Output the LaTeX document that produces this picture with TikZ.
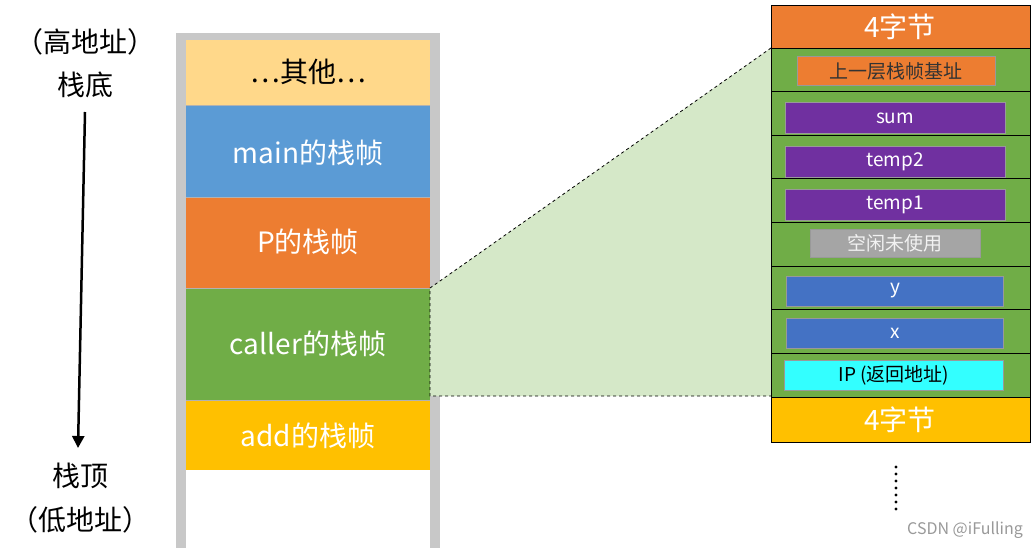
\documentclass[tikz,border=0pt]{standalone}
\usepackage{fontspec}
\setmainfont{Noto Sans CJK SC}
\usetikzlibrary{arrows.meta}
\definecolor{cother}{HTML}{FFD88A}
\definecolor{cmain}{HTML}{5B9BD5}
\definecolor{cp}{HTML}{ED7D31}
\definecolor{ccaller}{HTML}{70AD47}
\definecolor{cadd}{HTML}{FFC000}
\definecolor{cpur}{HTML}{7030A0}
\definecolor{cblue}{HTML}{4472C4}
\definecolor{ccyan}{HTML}{33FFFF}
\definecolor{cgray}{HTML}{A5A5A5}
\definecolor{cwall}{HTML}{C8C8C8}
\definecolor{ctrap}{HTML}{D5E8C8}
\begin{document}
\begin{tikzpicture}[x=1pt,y=-1pt,
  blk/.style={font=\fontsize{28}{30}\selectfont,text=white},
  inner/.style={draw=black!40,line width=0.8pt,font=\fontsize{19}{21}\selectfont,text=white},
  row/.style={draw=black,line width=0.8pt,fill=ccaller}]
\useasboundingbox (0,0) rectangle (1035,548);
\fill[white] (0,0) rectangle (1035,548);
% left container
\fill[cwall] (176,33) rectangle (440,548);
\fill[white] (186,40) rectangle (430,548);
\fill[cother] (186,40) rectangle (430,105);
\fill[cmain] (186,105) rectangle (430,197);
\fill[cp] (186,197) rectangle (430,288);
\fill[ccaller] (186,288) rectangle (430,400);
\fill[cadd] (186,400) rectangle (430,470);
\draw[black!30,line width=0.6pt] (186,105)--(430,105) (186,197)--(430,197) (186,288)--(430,288) (186,400)--(430,400);
\node[blk,text=black] (other) at (308,72) {…其他…};
\node[blk] (main) at (308,153) {main的栈帧};
\node[blk] (p) at (308,242) {P的栈帧};
\node[blk] (caller) at (308,344) {caller的栈帧};
\node[blk] (add) at (308,436) {add的栈帧};
% trapezoid
\coordinate (a1) at (430,288); \coordinate (a2) at (430,396);
\coordinate (b1) at (771,48); \coordinate (b2) at (771,396);
\fill[ctrap] (a1)--(b1)--(b2)--(a2)--cycle;
\draw[dashed,line width=0.8pt] (b1)--(a1)--(a2)--(b2);
% right column
\draw[line width=0.8pt,fill=cp] (771,5) rectangle (1030,48);
\node[font=\fontsize{28}{30}\selectfont,text=white] (top4) at (900,27) {4字节};
\foreach \i in {0,...,7}{
  \draw[row] (771,{48+43.625*\i}) rectangle (1030,{48+43.625*(\i+1)});
}
\draw[line width=0.8pt,fill=cadd] (771,397) rectangle (1030,442);
\node[font=\fontsize{28}{30}\selectfont,text=white] (bot4) at (900,420) {4字节};
\node[inner,fill=cp,text=black!80,minimum width=198pt,minimum height=29pt] (base) at (896,71) {上一层栈帧基址};
\node[inner,fill=cpur,minimum width=220pt,minimum height=31pt] (sum) at (895,118) {sum};
\node[inner,fill=cpur,minimum width=220pt,minimum height=31pt] (t2) at (895,162) {temp2};
\node[inner,fill=cpur,minimum width=220pt,minimum height=31pt] (t1) at (895,205) {temp1};
\node[inner,fill=cgray,text=white!90!gray,minimum width=170pt,minimum height=28pt] (free) at (895,243) {空闲未使用};
\node[inner,fill=cblue,minimum width=217pt,minimum height=30pt] (y) at (895,291) {y};
\node[inner,fill=cblue,minimum width=217pt,minimum height=30pt] (x) at (895,333) {x};
\node[inner,fill=ccyan,text=black,minimum width=219pt,minimum height=30pt] (ip) at (894,375) {IP (返回地址)};
% dots
\foreach \k in {0,...,6}{ \fill (896,{467+7*\k}) circle (1.6pt); }
% left labels
\node[font=\fontsize{28}{30}\selectfont] (hi) at (85,42) {（高地址）};
\node[font=\fontsize{28}{30}\selectfont] (bottom) at (85,85) {栈底};
\node[font=\fontsize{28}{30}\selectfont] (topl) at (80,476) {栈顶};
\node[font=\fontsize{28}{30}\selectfont] (lo) at (80,520) {（低地址）};
\draw[line width=2.5pt,-{Triangle[length=12pt,width=12pt]}] (85,112) -- (78,448);
\node[font=\fontsize{16}{18}\selectfont,text=black!40] (wm) at (965,530) {CSDN @iFulling};
\end{tikzpicture}
\end{document}
